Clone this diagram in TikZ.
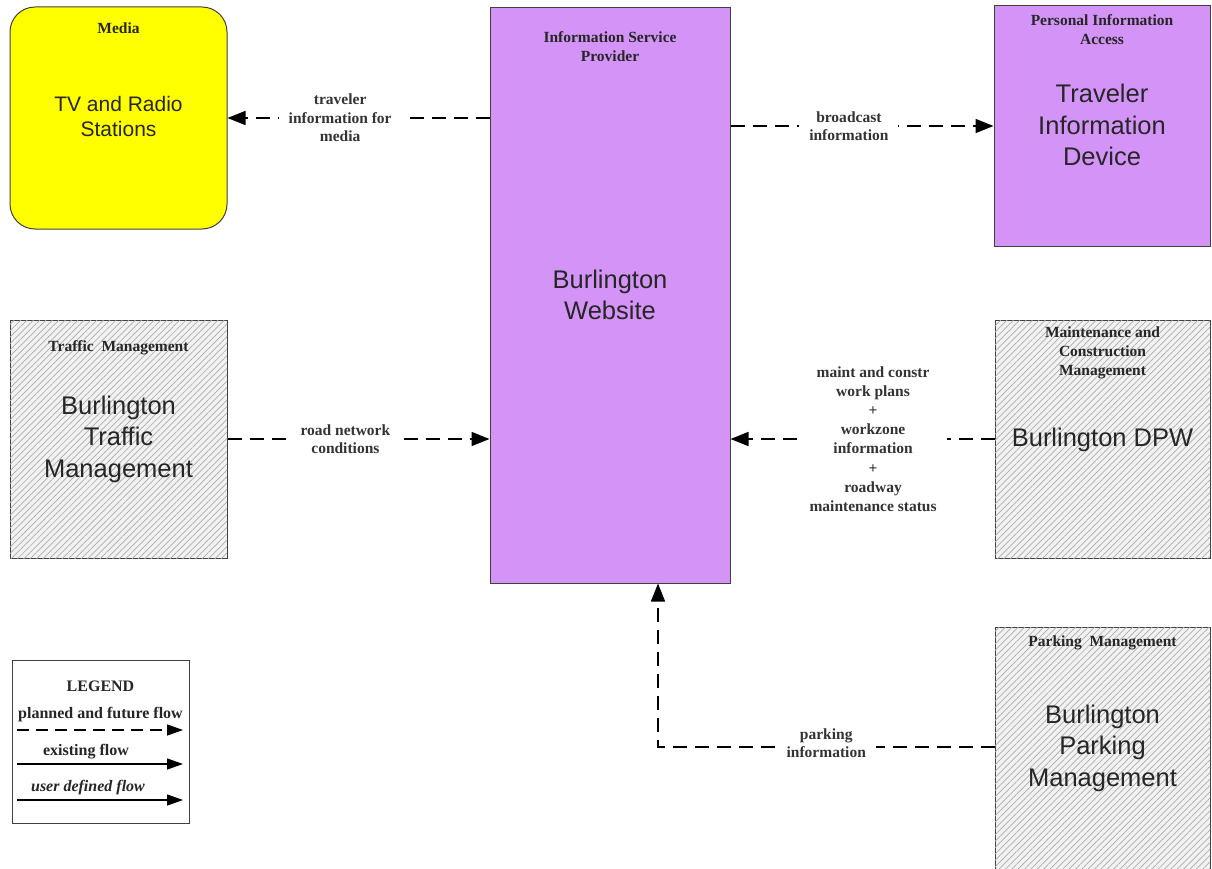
\documentclass[tikz,border=0pt]{standalone}
\usepackage{fontspec}
\setmainfont{Liberation Serif}
\setsansfont{Liberation Sans}
\usetikzlibrary{arrows.meta,patterns.meta}
\definecolor{ispurple}{HTML}{D494F7}
\definecolor{medyellow}{HTML}{FFFF00}
\begin{document}
\begin{tikzpicture}[x=1pt,y=-1pt,
  box/.style={draw=black!75, line width=1pt, inner sep=0pt},
  purplebox/.style={box, fill=ispurple},
  hatchbox/.style={box, fill=gray!10, postaction={pattern={Lines[angle=45,distance=4.5pt,line width=0.7pt]}, pattern color=gray!65}},
  ttl/.style={font=\bfseries\fontsize{15.5}{19}\selectfont, align=center, text=black!85, inner sep=0pt},
  mtxt/.style={font=\sffamily\fontsize{25.5}{31.5}\selectfont, align=center, text=black!85, inner sep=0pt},
  flow/.style={dash pattern=on 14pt off 8pt, line width=1.6pt, -{Triangle[length=18pt,width=14pt]}},
  lbl/.style={font=\bfseries\fontsize{15.5}{18.5}\selectfont, align=center, text=black!80, fill=white, inner xsep=10pt, inner ysep=2pt},
  lgtxt/.style={font=\bfseries\fontsize{16}{17}\selectfont, text=black!85, inner sep=0pt},
  lgflow/.style={line width=1.3pt, -{Triangle[length=16pt,width=11pt]}}
]
\useasboundingbox (0,0) rectangle (1212,869);

% boxes
\node[box, fill=medyellow, rounded corners=25pt, minimum width=217pt, minimum height=222pt] (media) at (118.5,118) {};
\node[purplebox, minimum width=240pt, minimum height=575pt] (isp) at (610,295.5) {};
\node[purplebox, minimum width=216pt, minimum height=240pt] (pia) at (1102,126) {};
\node[hatchbox, minimum width=217pt, minimum height=238pt] (tm) at (118.5,439) {};
\node[hatchbox, minimum width=215pt, minimum height=238pt] (dpw) at (1102.5,439) {};
\node[hatchbox, minimum width=215pt, minimum height=250pt] (park) at (1102.5,752) {};
\node[box, fill=white, minimum width=177pt, minimum height=163pt] (legend) at (100.5,741.5) {};

% texts in boxes
\node[ttl] (mediat) at (118.5,28) {Media};
\node[mtxt, font=\sffamily\fontsize{21}{25}\selectfont] (mediam) at (118.5,116) {TV and Radio\\Stations};
\node[ttl] (ispt) at (610,47) {Information Service\\Provider};
\node[mtxt] (ispm) at (610,295) {Burlington\\Website};
\node[ttl] (piat) at (1102,30) {Personal Information\\Access};
\node[mtxt] (piam) at (1102,125) {Traveler\\Information\\Device};
\node[ttl] (tmt) at (118.5,348) {Traffic\ \ Management};
\node[mtxt] (tmm) at (118.5,439) {Burlington\\Traffic\\Management};
\node[ttl] (dpwt) at (1102.5,353) {Maintenance and\\Construction\\Management};
\node[mtxt] (dpwm) at (1102.5,440) {Burlington DPW};
\node[ttl] (parkt) at (1102.5,643) {Parking\ \ Management};
\node[mtxt] (parkm) at (1102.5,748) {Burlington\\Parking\\Management};

% flows
\draw[flow] (isp.west |- media.east) -- node[lbl, pos=0.57] (l1) {traveler\\information for\\media} (media.east);
\draw[flow] (isp.east |- pia.west) -- node[lbl, pos=0.45] (l2) {broadcast\\information} (pia.west);
\draw[flow] (tm.east) -- node[lbl, pos=0.45] (l3) {road network\\conditions} (isp.west |- tm.east);
\draw[flow] (dpw.west) -- node[lbl, pos=0.46, font=\bfseries\fontsize{15.5}{19.2}\selectfont] (l4) {maint and constr\\work plans\\+\\workzone\\information\\+\\roadway\\maintenance status} (isp.east |- dpw.west);
\coordinate (pturn) at (658,747);
\draw[flow] (park.west |- pturn) -- node[lbl, pos=0.5, yshift=4pt] (l5) {parking\\information} (pturn) -- (pturn |- isp.south);

% legend
\node[lgtxt] (lgt) at (100.5,686) {LEGEND};
\node[lgtxt] (lg1) at (100.5,715) {planned and future flow};
\coordinate (lg1a) at (17,730); \coordinate (lg1b) at (183,730);
\draw[lgflow, dash pattern=on 12pt off 7pt] (lg1a) -- (lg1b);
\node[lgtxt] (lg2) at (86,752) {existing flow};
\coordinate (lg2a) at (17,764); \coordinate (lg2b) at (183,764);
\draw[lgflow] (lg2a) -- (lg2b);
\node[lgtxt, font=\bfseries\itshape\fontsize{16}{17}\selectfont] (lg3) at (88,788) {user defined flow};
\coordinate (lg3a) at (17,800); \coordinate (lg3b) at (183,800);
\draw[lgflow] (lg3a) -- (lg3b);
\end{tikzpicture}
\end{document}
